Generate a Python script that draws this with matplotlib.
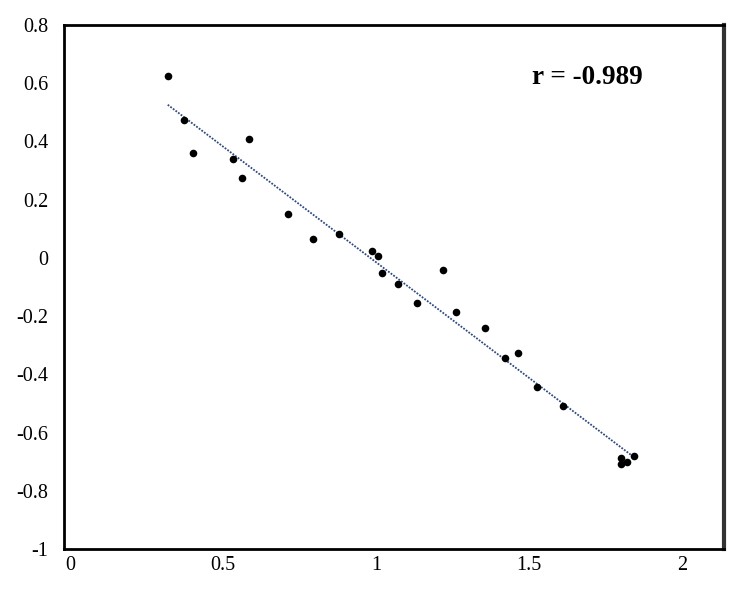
import numpy as np
import matplotlib
matplotlib.use("Agg")
import matplotlib.pyplot as plt
import matplotlib.transforms as mtransforms

x_vals = [0.339, 0.392, 0.423, 0.551, 0.583, 0.604, 0.731, 0.814, 0.899, 1.007,
          1.026, 1.038, 1.090, 1.155, 1.237, 1.281, 1.377, 1.440, 1.483, 1.547,
          1.630, 1.821, 1.821, 1.841, 1.863]
y_vals = [0.626, 0.475, 0.360, 0.341, 0.273, 0.408, 0.150, 0.065, 0.082, 0.023,
          0.006, -0.051, -0.089, -0.155, -0.041, -0.185, -0.242, -0.345, -0.327, -0.442,
          -0.509, -0.689, -0.709, -0.701, -0.681]
x_ticks = [0, 0.5, 1, 1.5, 2]
y_ticks = [-1, -0.8, -0.6, -0.4, -0.2, 0, 0.2, 0.4, 0.6, 0.8]
x_tick_labels = ["0", "0.5", "1", "1.5", "2"]
y_tick_labels = ["-1", "-0.8", "-0.6", "-0.4", "-0.2", "0", "0.2", "0.4", "0.6", "0.8"]
r_label = "r = -0.989"

plt.rcParams['font.family'] = ['Liberation Serif', 'DejaVu Serif']

fig = plt.figure(figsize=(7.43, 5.91), dpi=100)
ax = fig.add_axes([64/743, 42/591, 660/743, 524/591])

x = np.array(x_vals)
y = np.array(y_vals)
ax.scatter(x, y, s=30, color='black', zorder=3, linewidths=0)

coef = np.polyfit(x, y, 1)
xf = np.array([x.min(), x.max()])
ax.plot(xf, np.polyval(coef, xf), color='#2E4A7E', lw=1.3, linestyle=(0, (1, 0.8)), zorder=2)

ax.set_xlim(0, 660/306)
ax.set_ylim(-1, 0.8)
ax.set_xticks(x_ticks)
ax.set_xticklabels(x_tick_labels)
ax.set_yticks(y_ticks)
ax.set_yticklabels(y_tick_labels)
ax.tick_params(axis='both', length=0, labelsize=14.5)
ax.tick_params(axis='x', pad=5)
ax.tick_params(axis='y', pad=11.5)

offset = mtransforms.ScaledTranslation(6/100, 0, fig.dpi_scale_trans)
for lbl in ax.get_xticklabels():
    lbl.set_transform(lbl.get_transform() + offset)

for side in ['left', 'bottom', 'top']:
    ax.spines[side].set_linewidth(2)
    ax.spines[side].set_color('black')
ax.spines['right'].set_linewidth(3)
ax.spines['right'].set_color('#333333')

ax.text(1.712, 0.621, r_label, fontsize=19.5, fontweight='bold', ha='center', va='center')

fig.savefig("out.png", dpi=100)
